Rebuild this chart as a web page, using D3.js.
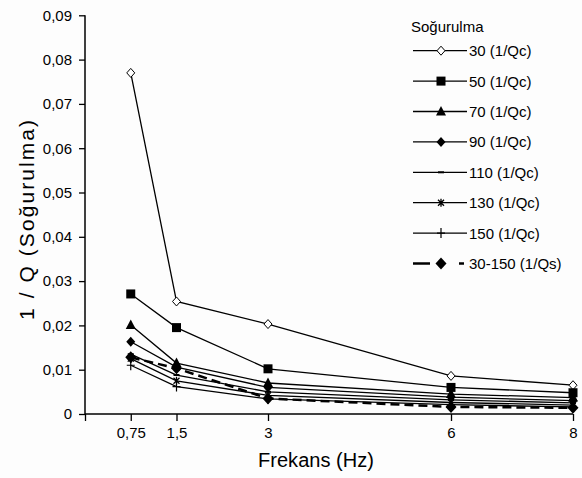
<!DOCTYPE html>
<html><head><meta charset="utf-8">
<script src="https://cdn.jsdelivr.net/npm/d3@7"></script>
<style>
html,body{margin:0;padding:0;background:#fdfdfd;}
svg{display:block;font-family:"Liberation Sans",Arial,sans-serif;}
</style></head>
<body><svg id="c" width="582" height="478"></svg>
<script>
const frequencies = [0.75, 1.5, 3, 6, 8];
const xTickLabels = ["0,75", "1,5", "3", "6", "8"];
const yTicks = [0, 0.01, 0.02, 0.03, 0.04, 0.05, 0.06, 0.07, 0.08, 0.09];
const seriesNames = ["30 (1/Qc)", "50 (1/Qc)", "70 (1/Qc)", "90 (1/Qc)", "110 (1/Qc)", "130 (1/Qc)", "150 (1/Qc)", "30-150 (1/Qs)"];
const q30  = [0.0770, 0.0254, 0.0203, 0.0086, 0.0065];
const q50  = [0.0271, 0.0195, 0.0102, 0.0060, 0.0048];
const q70  = [0.0201, 0.0115, 0.0070, 0.0045, 0.0037];
const q90  = [0.0163, 0.0106, 0.0060, 0.0038, 0.0030];
const q110 = [0.0135, 0.0088, 0.0050, 0.0032, 0.0025];
const q130 = [0.0125, 0.0075, 0.0042, 0.0026, 0.0020];
const q150 = [0.0110, 0.0062, 0.0034, 0.0021, 0.0016];
const qs   = [0.0128, 0.0103, 0.0035, 0.0016, 0.0014];
const markers = ["hollowDiamond", "square", "triangle", "diamond", "dash", "star", "plus", "bigDiamond"];
const allSeries = [q30, q50, q70, q90, q110, q130, q150, qs];

const svg = d3.select("#c");
const x = d3.scaleLinear().domain([0, 8]).range([85, 573]);
const y = d3.scaleLinear().domain([0, 0.09]).range([414, 15.3]);

// axes
const yAxis = d3.axisLeft(y).tickValues(yTicks).tickSize(6).tickPadding(7)
  .tickFormat(d => d === 0 ? "0" : d3.format(".2f")(d).replace(".", ","));
const gy = svg.append("g").attr("transform", "translate(85,0)").call(yAxis);
gy.select(".domain").attr("stroke", "#000").attr("stroke-width", 1.5).attr("d", `M0,${y(0.09)}V${y(0)}`);
gy.selectAll("text").attr("font-size", 15).attr("fill", "#000");

const xAxis = d3.axisBottom(x).tickValues([0].concat(frequencies)).tickSize(7).tickPadding(6)
  .tickFormat((d, i) => i === 0 ? "" : xTickLabels[i - 1]);
const gx = svg.append("g").attr("transform", "translate(0,414)").call(xAxis);
gx.select(".domain").attr("stroke", "#000").attr("stroke-width", 1.5).attr("d", `M${x(0)},0H${x(8)}`);
gx.selectAll("text").attr("font-size", 15).attr("fill", "#000");
svg.selectAll(".tick line").attr("stroke", "#000").attr("stroke-width", 1.3);

// titles
svg.append("text").attr("x", 316).attr("y", 467).attr("text-anchor", "middle")
  .attr("font-size", 20).attr("textLength", 116).attr("lengthAdjust", "spacing").text("Frekans (Hz)");
svg.append("text").attr("transform", "translate(34,220) rotate(-90)").attr("text-anchor", "middle")
  .attr("font-size", 21).attr("textLength", 200).attr("lengthAdjust", "spacing").text("1 / Q (Soğurulma)");

function drawMarker(g, type, cx, cy) {
  const s = g.append("g").attr("transform", `translate(${cx},${cy})`);
  switch (type) {
    case "hollowDiamond":
      s.append("path").attr("d", "M0,-4.5L4,0L0,4.5L-4,0Z").attr("fill", "#fff").attr("stroke", "#000").attr("stroke-width", 1); break;
    case "square":
      s.append("rect").attr("x", -4.5).attr("y", -4.5).attr("width", 9).attr("height", 9).attr("fill", "#000"); break;
    case "triangle":
      s.append("path").attr("d", "M0,-5.5L5,4L-5,4Z").attr("fill", "#000"); break;
    case "diamond":
      s.append("path").attr("d", "M0,-5L4.5,0L0,5L-4.5,0Z").attr("fill", "#000"); break;
    case "bigDiamond":
      s.append("path").attr("d", "M0,-6L5.5,0L0,6L-5.5,0Z").attr("fill", "#000"); break;
    case "dash":
      s.append("path").attr("d", "M-3,0H3").attr("stroke", "#000").attr("stroke-width", 2); break;
    case "star":
      s.append("path").attr("d", "M-3,-3L3,3M3,-3L-3,3M0,-4V4").attr("stroke", "#000").attr("stroke-width", 1.3); break;
    case "plus":
      s.append("path").attr("d", "M-4,0H4M0,-5V5").attr("stroke", "#000").attr("stroke-width", 1.2); break;
  }
}

const line = d3.line().x((d, i) => x(frequencies[i])).y(d => y(d));
const plot = svg.append("g");
allSeries.forEach((vals, si) => {
  const last = si === allSeries.length - 1;
  plot.append("path").datum(vals).attr("d", line).attr("fill", "none").attr("stroke", "#000")
    .attr("stroke-width", last ? 2.5 : 1.3).attr("stroke-dasharray", last ? "9,5" : null);
});
allSeries.forEach((vals, si) => {
  vals.forEach((v, i) => drawMarker(plot, markers[si], x(frequencies[i]), y(v)));
});

// legend
const lg = svg.append("g");
lg.append("text").attr("x", 411).attr("y", 32).attr("font-size", 15).text("Soğurulma");
seriesNames.forEach((name, i) => {
  const cy = 50.7 + i * 30.4;
  const last = i === seriesNames.length - 1;
  if (last) {
    lg.append("path").attr("d", `M413,${cy}H430`).attr("stroke", "#000").attr("stroke-width", 2.5);
    lg.append("path").attr("d", `M459,${cy}H464`).attr("stroke", "#000").attr("stroke-width", 2.5);
  } else {
    lg.append("path").attr("d", `M413,${cy}H467`).attr("stroke", "#000").attr("stroke-width", 1.3);
  }
  drawMarker(lg, markers[i], 441, cy);
  lg.append("text").attr("x", 469).attr("y", cy + 5.5).attr("font-size", 15).text(name);
});
</script></body></html>
